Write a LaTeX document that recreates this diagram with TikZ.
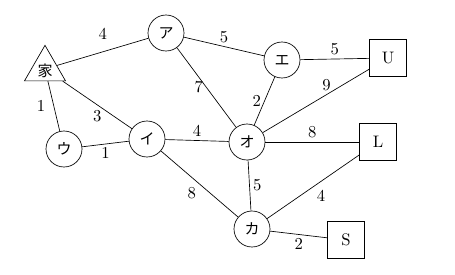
\documentclass[tikz,border=0pt]{standalone}
\usepackage{fontspec}
\newfontfamily\jp{Noto Sans CJK JP}
\usetikzlibrary{shapes.geometric}

\begin{document}
\begin{tikzpicture}[x=0.6pt,y=-0.6pt,
    stn/.style={circle,draw,minimum size=21.6pt,inner sep=0pt,font=\jp\small},
    sq/.style={rectangle,draw,minimum size=22.2pt,inner sep=0pt},
    home/.style={regular polygon,regular polygon sides=3,draw,minimum size=28.4pt,inner sep=0pt},
    w/.style={inner sep=2pt}]
  \useasboundingbox (0,0) rectangle (455,274);
  \node[home] (ie) at (45,69) {};
  \node[font=\jp\small] at (45,71) {家};
  \node[stn] (a) at (166,33) {ア};
  \node[stn] (e) at (282,60) {エ};
  \node[stn] (i) at (147,139) {イ};
  \node[stn] (u) at (64,149) {ウ};
  \node[stn] (o) at (247,142) {オ};
  \node[stn] (ka) at (252,229) {カ};
  \node[sq] (U) at (388,58) {U};
  \node[sq] (L) at (378,142) {L};
  \node[sq] (S) at (346,240) {S};
  \draw (ie) -- node[w,above=5pt] {4} (a);
  \draw (a) -- node[w,above] {5} (e);
  \draw (e) -- node[w,above] {5} (U);
  \draw (ie) -- node[w,left=3pt] {1} (u);
  \draw (ie) -- node[w,below=1pt] {3} (i);
  \draw (a) -- node[w,left] {7} (o);
  \draw (e) -- node[w,left] {2} (o);
  \draw (o) -- node[w,pos=0.6,above] {9} (U);
  \draw (u) -- node[w,below] {1} (i);
  \draw (i) -- node[w,above] {4} (o);
  \draw (o) -- node[w,above] {8} (L);
  \draw (i) -- node[w,below left] {8} (ka);
  \draw (o) -- node[w,right] {5} (ka);
  \draw (ka) -- node[w,below right] {4} (L);
  \draw (ka) -- node[w,below] {2} (S);
\end{tikzpicture}
\end{document}
